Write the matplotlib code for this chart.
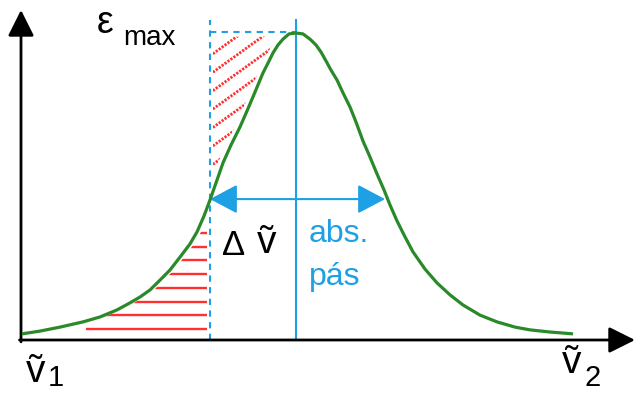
import numpy as np
import matplotlib
matplotlib.use("Agg")
import matplotlib.pyplot as plt
from matplotlib.patches import FancyArrowPatch, Polygon, ArrowStyle

# ---------------- data (arbitrary units) ----------------
nu = [1, 19, 39, 62, 79, 96, 109, 119, 129, 139, 149, 159, 169, 176, 183, 189,
      196, 202, 210, 219, 226, 232, 237, 242, 247, 252, 257, 262, 268, 275,
      282, 289, 295, 300, 305, 310, 316, 322, 329, 335, 342, 349, 356, 363,
      369, 376, 384, 392, 404, 416, 429, 442, 459, 476, 494, 509, 529, 552]
eps = [0.020, 0.029, 0.042, 0.059, 0.075, 0.098, 0.121, 0.140, 0.163, 0.195,
       0.228, 0.270, 0.313, 0.352, 0.404, 0.456, 0.521, 0.577, 0.635, 0.694,
       0.746, 0.792, 0.831, 0.870, 0.902, 0.935, 0.961, 0.980, 0.997, 1.000,
       0.997, 0.980, 0.961, 0.938, 0.909, 0.879, 0.847, 0.805, 0.759, 0.710,
       0.648, 0.596, 0.541, 0.489, 0.440, 0.388, 0.336, 0.287, 0.231, 0.186,
       0.147, 0.114, 0.081, 0.059, 0.042, 0.033, 0.026, 0.020]
nu_peak = 275          # absorption band centre
nu_half_left = 189     # left half-height point
nu_half_right = 364    # right half-height point
eps_half = 0.459       # level of the width arrow
eps_max = 1.0
nu_axis_end = 614
eps_axis_end = 1.075

labels = {"eps": "ε", "max": "max", "delta": "Δ", "nu": "ṽ",
          "abs": "abs.", "pas": "pás", "nu1": "1", "nu2": "2"}

# ---------------- styling ----------------
GREEN = "#2a8a2a"
BLUE = "#1ea0e4"
RED = "#ff3030"
FAM = ["Liberation Sans", "DejaVu Sans"]

fig = plt.figure(figsize=(6.35, 3.93), dpi=100)
ax = fig.add_axes([0, 0, 1, 1])
ax.set_xlim(-21, 614)
ax.set_ylim(-53 / 307, 340 / 307)
ax.axis("off")

nu_a = np.array(nu, float)
eps_a = np.array(eps, float)

# axes arrows
arrow_style = ArrowStyle("-|>", head_length=16, head_width=8)
for start, end in [((0, -0.006), (0, eps_axis_end)), ((-1.5, 0), (nu_axis_end, 0))]:
    ax.add_patch(FancyArrowPatch(start, end, arrowstyle=arrow_style, mutation_scale=1,
                                 color="black", lw=2.0, shrinkA=0, shrinkB=0, zorder=3))

# lower horizontal hatching (below curve, left of dashed line)
left = nu_a <= nu_half_left
poly_low = np.vstack([np.column_stack([nu_a[left] + 4, eps_a[left]]),
                      [[nu_half_left, 0], [nu_a[0], 0]]])
clip_low = Polygon(poly_low, closed=True, transform=ax.transData)
levels = 0.036 + 0.0446 * np.arange(8)
hl = ax.hlines(levels, 65, nu_half_left - 3, colors=RED, lw=1.7, zorder=2)
hl.set_clip_path(clip_low)

# upper diagonal hatching (above curve, right of dashed line, below eps_max)
up = (nu_a > nu_half_left) & (nu_a <= nu_peak)
right_edge = np.column_stack([nu_a[up] - 4, eps_a[up] + 0.008])
poly_up = np.vstack([[[nu_half_left + 3, eps_a[nu_a == nu_half_left][0] + 0.03]],
                     right_edge,
                     [[nu_peak - 8, eps_max - 0.012], [nu_half_left + 3, eps_max - 0.012]]])
clip_up = Polygon(poly_up, closed=True, transform=ax.transData)
slope = 0.72 / 307
xs = np.array([nu_half_left, nu_peak])
for k in range(20):
    e0 = 1.05 - 0.06 * k
    ln, = ax.plot(xs, e0 + (xs - 191) * slope, color=RED, lw=2.0,
                  linestyle=(0, (0.8, 0.5)), zorder=2)
    ln.set_clip_path(clip_up)

# blue guide lines
ax.plot([nu_half_left, nu_half_left], [0, 1.042], color=BLUE, lw=1.5,
        linestyle=(0, (3, 2.6)), zorder=2)
ax.plot([nu_half_left, nu_peak], [eps_max + 0.003, eps_max + 0.003], color=BLUE, lw=1.5,
        linestyle=(0, (3, 2.6)), zorder=2)
ax.plot([nu_peak, nu_peak], [0, 1.042], color=BLUE, lw=1.5, zorder=2)

# width arrow
ax.add_patch(FancyArrowPatch((nu_half_left, eps_half), (nu_half_right, eps_half),
                             arrowstyle=ArrowStyle("<|-|>", head_length=17, head_width=9),
                             mutation_scale=1, color=BLUE, lw=1.5, shrinkA=0, shrinkB=0,
                             zorder=4))

# absorption curve
ax.plot(nu_a, eps_a, color=GREEN, lw=2.3, solid_capstyle="butt", zorder=5)

# texts
ax.text(76, 1.0, labels["eps"], fontsize=27, family=FAM, ha="left", va="baseline")
ax.text(102, 0.961, labels["max"], fontsize=20, family=FAM, ha="left", va="baseline")
ax.text(201, 0.277, labels["delta"], fontsize=25, family=FAM, ha="left", va="baseline")
ax.text(236, 0.282, labels["nu"], fontsize=28, family=FAM, ha="left", va="baseline")
ax.text(288, 0.319, labels["abs"], fontsize=23, family=FAM, color=BLUE,
        ha="left", va="baseline")
ax.text(288, 0.180, labels["pas"], fontsize=23, family=FAM, color=BLUE,
        ha="left", va="baseline")
ax.text(5, -0.137, labels["nu"], fontsize=28, family=FAM, ha="left", va="baseline")
ax.text(27, -0.150, labels["nu1"], fontsize=21, family=FAM, ha="left", va="baseline")
ax.text(541, -0.107, labels["nu"], fontsize=28, family=FAM, ha="left", va="baseline")
ax.text(564, -0.150, labels["nu2"], fontsize=21, family=FAM, ha="left", va="baseline")

fig.savefig("out.png", dpi=100)
